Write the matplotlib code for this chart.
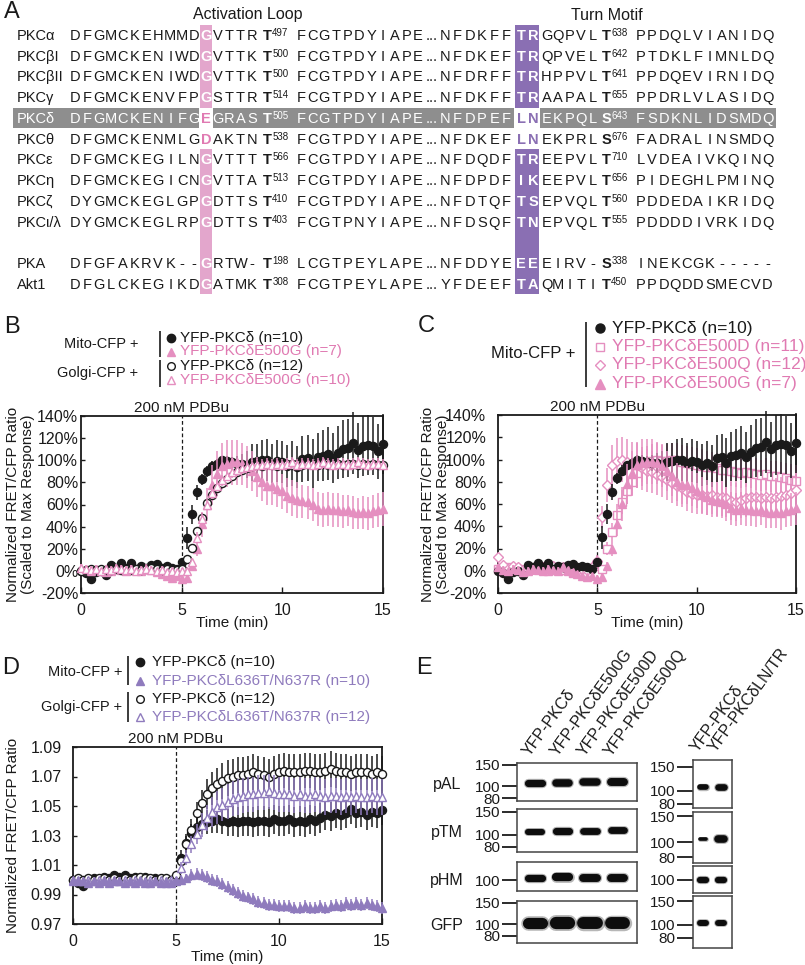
import numpy as np
import matplotlib
matplotlib.use("Agg")
import matplotlib.pyplot as plt
from matplotlib.patches import Rectangle
from matplotlib.ticker import NullLocator

plt.rcParams['font.family'] = ['Liberation Sans', 'DejaVu Sans']
INK = '#1a1a1a'
PINK = '#e58fc0'
PINK_TXT = '#e07ab2'
PURPLE = '#8f7bbd'
PINK_COL = '#e3a6cc'
PURPLE_COL = '#8a6fb3'
GRAY_ROW = '#8e8e8e'

# ---------------- Panel A data ----------------
proteins = ['PKCα', 'PKCβI', 'PKCβII', 'PKCγ', 'PKCδ', 'PKCθ', 'PKCε', 'PKCη',
            'PKCζ', 'PKCι/λ', 'PKA', 'Akt1']
al_left = ['DFGMCKEHMMD', 'DFGMCKENIWD', 'DFGMCKENIWD', 'DFGMCKENVFP', 'DFGMCKENIFG',
           'DFGMCKENMLG', 'DFGMCKEGILN', 'DFGMCKEGICN', 'DYGMCKEGLGP', 'DYGMCKEGLRP',
           'DFGFAKRVK--', 'DFGLCKEGIKD']
al_res = ['G', 'G', 'G', 'G', 'E', 'D', 'G', 'G', 'G', 'G', 'G', 'G']
al_right = ['VTTR', 'VTTK', 'VTTK', 'STTR', 'GRAS', 'AKTN', 'VTTT', 'VTTA', 'DTTS',
            'DTTS', 'RTW-', 'ATMK']
al_site = ['T497', 'T500', 'T500', 'T514', 'T505', 'T538', 'T566', 'T513', 'T410',
           'T403', 'T198', 'T308']
mid_left = ['FCGTPDYIAPE', 'FCGTPDYIAPE', 'FCGTPDYIAPE', 'FCGTPDYIAPE', 'FCGTPDYIAPE',
            'FCGTPDYIAPE', 'FCGTPDYIAPE', 'FCGTPDYIAPE', 'FCGTPDYIAPE', 'FCGTPNYIAPE',
            'LCGTPEYLAPE', 'FCGTPEYLAPE']
mid_right = ['NFDKFF', 'NFDKEF', 'NFDRFF', 'NFDKFF', 'NFDPEF', 'NFDKEF', 'NFDQDF',
             'NFDPDF', 'NFDTQF', 'NFDSQF', 'NFDDYE', 'YFDEEF']
tm_res = ['TR', 'TR', 'TR', 'TR', 'LN', 'LN', 'TR', 'IK', 'TS', 'TN', 'EE', 'TA']
tm_right = ['GQPVL', 'QPVEL', 'HPPVL', 'AAPAL', 'EKPQL', 'EKPRL', 'EEPVL', 'EEPVL',
            'EPVQL', 'EPVQL', 'EIRV-', 'QMITI']
tm_site = ['T638', 'T642', 'T641', 'T655', 'S643', 'S676', 'T710', 'T656', 'T560',
           'T555', 'S338', 'T450']
c_term = ['PPDQLVIANIDQ', 'PTDKLFIMNLDQ', 'PPDQEVIRNIDQ', 'PPDRLVLASIDQ', 'FSDKNLIDSMDQ',
          'FADRALINSMDQ', 'LVDEAIVKQINQ', 'PIDEGHLPMINQ', 'PDDEDAIKRIDQ', 'PDDDDIVRKIDQ',
          'INEKCGK-----', 'PPDQDDSMECVD']
highlight_row = 'PKCδ'

# ---------------- Time-course data (sampled every 15 s) ----------------
t = np.arange(0, 15.01, 0.25)

mito_wt = [0.00, -0.02, -0.07, -0.01, 0.00, -0.04, 0.05, 0.03, 0.07, 0.03, 0.07, 0.02, 0.04, 0.03, 0.05, 0.06, 0.03, 0.04, 0.03, 0.02, 0.08,
           0.30, 0.51, 0.71, 0.83, 0.90, 0.95, 0.97, 1.00, 0.99, 0.98, 0.97, 0.97, 0.96, 0.98, 0.99, 1.00, 1.00, 0.97, 0.99, 0.98,
           0.95, 0.97, 0.94, 1.01, 1.02, 0.97, 1.03, 1.04, 1.06, 1.02, 1.07, 1.10, 1.11, 1.16, 1.09, 1.13, 1.14, 1.13, 1.08, 1.15]
mito_wt_err = [0.02, 0.02, 0.03, 0.02, 0.02, 0.03, 0.02, 0.02, 0.03, 0.02, 0.02, 0.02, 0.03, 0.02, 0.02, 0.03, 0.02, 0.02, 0.02, 0.03, 0.03,
               0.10, 0.09, 0.07, 0.05, 0.05, 0.04, 0.04, 0.04, 0.05, 0.05, 0.07, 0.09, 0.12, 0.17, 0.16, 0.18, 0.19, 0.18, 0.19, 0.19,
               0.19, 0.20, 0.19, 0.21, 0.21, 0.22, 0.22, 0.23, 0.24, 0.23, 0.24, 0.26, 0.26, 0.28, 0.25, 0.27, 0.27, 0.26, 0.25, 0.27]

mito_E500G = [0.03, 0.01, 0.00, 0.02, 0.01, -0.01, 0.00, 0.02, 0.01, 0.00, 0.02, 0.01, 0.00, 0.03, 0.01, -0.01, -0.03, -0.05, -0.06, -0.05, -0.07,
              -0.06, 0.04, 0.20, 0.42, 0.60, 0.78, 0.88, 0.95, 0.97, 0.98, 0.98, 0.97, 0.94, 0.90, 0.85, 0.80, 0.77, 0.77, 0.74, 0.72,
              0.68, 0.66, 0.64, 0.63, 0.62, 0.60, 0.56, 0.55, 0.56, 0.55, 0.55, 0.54, 0.55, 0.53, 0.52, 0.53, 0.52, 0.54, 0.55, 0.56]
mito_E500G_err = [0.03, 0.03, 0.02, 0.03, 0.03, 0.02, 0.03, 0.03, 0.02, 0.03, 0.03, 0.02, 0.03, 0.03, 0.02, 0.03, 0.03, 0.03, 0.03, 0.03, 0.03,
                  0.03, 0.04, 0.07, 0.11, 0.15, 0.18, 0.20, 0.21, 0.21, 0.20, 0.20, 0.19, 0.19, 0.18, 0.18, 0.17, 0.17, 0.17, 0.16, 0.16,
                  0.16, 0.16, 0.16, 0.15, 0.15, 0.15, 0.15, 0.15, 0.15, 0.15, 0.15, 0.15, 0.14, 0.15, 0.14, 0.15, 0.15, 0.15, 0.15, 0.15]

golgi_wt = [0.00, 0.01, 0.02, 0.01, 0.02, 0.01, 0.01, 0.02, 0.01, 0.02, 0.01, 0.02, 0.01, 0.02, 0.03, 0.02, 0.01, 0.02, 0.01, 0.01, 0.02,
            0.11, 0.21, 0.36, 0.48, 0.61, 0.69, 0.75, 0.79, 0.83, 0.86, 0.89, 0.91, 0.93, 0.95, 0.96, 0.95, 0.97, 0.96, 0.95, 0.96,
            0.97, 0.96, 0.97, 0.96, 0.97, 0.97, 0.96, 0.97, 0.96, 0.97, 0.97, 0.96, 0.97, 0.97, 0.96, 0.97, 0.96, 0.97, 0.96, 0.96]
golgi_wt_err = [0.02, 0.02, 0.02, 0.02, 0.02, 0.02, 0.02, 0.02, 0.02, 0.02, 0.02, 0.02, 0.02, 0.02, 0.02, 0.02, 0.02, 0.02, 0.02, 0.02, 0.02,
                0.03, 0.03, 0.04, 0.04, 0.04, 0.04, 0.04, 0.04, 0.04, 0.04, 0.04, 0.04, 0.04, 0.04, 0.04, 0.04, 0.04, 0.04, 0.04, 0.04,
                0.04, 0.04, 0.04, 0.04, 0.04, 0.04, 0.04, 0.04, 0.04, 0.04, 0.04, 0.04, 0.04, 0.04, 0.04, 0.04, 0.04, 0.04, 0.04, 0.04]

golgi_E500G = [0.03, 0.02, 0.01, 0.02, 0.00, 0.02, 0.01, 0.03, 0.02, 0.01, 0.02, 0.00, 0.01, 0.02, 0.01, 0.00, 0.01, -0.01, 0.00, -0.01, 0.00,
               0.00, 0.08, 0.30, 0.47, 0.60, 0.70, 0.77, 0.82, 0.86, 0.89, 0.91, 0.93, 0.94, 0.95, 0.96, 0.96, 0.97, 0.96, 0.97, 0.96,
               0.97, 0.98, 0.96, 0.97, 0.97, 0.96, 0.97, 0.98, 0.97, 0.96, 0.97, 0.97, 0.96, 0.97, 0.98, 0.97, 0.96, 0.97, 0.97, 0.96]
golgi_E500G_err = [0.03, 0.03, 0.03, 0.03, 0.03, 0.03, 0.03, 0.03, 0.03, 0.03, 0.03, 0.03, 0.03, 0.03, 0.03, 0.03, 0.03, 0.03, 0.03, 0.03, 0.03,
                   0.03, 0.04, 0.05, 0.05, 0.05, 0.05, 0.05, 0.05, 0.05, 0.05, 0.05, 0.05, 0.05, 0.05, 0.05, 0.05, 0.05, 0.05, 0.05, 0.05,
                   0.05, 0.05, 0.05, 0.05, 0.05, 0.05, 0.05, 0.05, 0.05, 0.05, 0.05, 0.05, 0.05, 0.05, 0.05, 0.05, 0.05, 0.05, 0.05, 0.05]

mito_E500D = [0.02, 0.00, 0.03, 0.01, 0.02, 0.00, 0.01, 0.03, 0.02, 0.01, 0.00, 0.02, 0.03, 0.01, 0.00, -0.02, -0.01, -0.03, -0.02, -0.04, -0.03,
              0.02, 0.20, 0.35, 0.50, 0.62, 0.72, 0.80, 0.88, 0.94, 0.97, 0.99, 1.00, 0.99, 0.99, 1.00, 1.00, 0.98, 0.97, 0.96, 0.95,
              0.94, 0.93, 0.93, 0.92, 0.91, 0.91, 0.90, 0.89, 0.88, 0.89, 0.88, 0.87, 0.86, 0.87, 0.85, 0.85, 0.84, 0.83, 0.82, 0.81]
mito_E500D_err = [0.03, 0.03, 0.03, 0.03, 0.03, 0.03, 0.03, 0.03, 0.03, 0.03, 0.03, 0.03, 0.03, 0.03, 0.03, 0.03, 0.03, 0.03, 0.03, 0.03, 0.03,
                  0.03, 0.06, 0.08, 0.10, 0.11, 0.12, 0.13, 0.14, 0.14, 0.15, 0.15, 0.15, 0.15, 0.15, 0.15, 0.15, 0.15, 0.15, 0.15, 0.15,
                  0.15, 0.15, 0.14, 0.14, 0.14, 0.14, 0.14, 0.14, 0.14, 0.14, 0.14, 0.14, 0.14, 0.14, 0.14, 0.14, 0.14, 0.14, 0.14, 0.14]

mito_E500Q = [0.12, 0.05, 0.02, 0.04, 0.03, 0.01, 0.03, 0.02, 0.04, 0.03, 0.02, 0.04, 0.02, 0.03, 0.02, 0.03, 0.00, 0.02, 0.01, 0.03, 0.09,
              0.48, 0.77, 0.95, 0.99, 1.00, 0.98, 0.96, 0.95, 0.92, 0.90, 0.89, 0.86, 0.84, 0.82, 0.79, 0.76, 0.74, 0.71, 0.69, 0.68,
              0.68, 0.67, 0.68, 0.66, 0.66, 0.65, 0.63, 0.62, 0.64, 0.65, 0.66, 0.66, 0.65, 0.66, 0.65, 0.66, 0.67, 0.68, 0.70, 0.73]
mito_E500Q_err = [0.04, 0.04, 0.04, 0.04, 0.04, 0.04, 0.04, 0.04, 0.04, 0.04, 0.04, 0.04, 0.04, 0.04, 0.04, 0.04, 0.04, 0.04, 0.04, 0.04, 0.05,
                  0.10, 0.15, 0.18, 0.20, 0.20, 0.20, 0.20, 0.20, 0.19, 0.19, 0.19, 0.18, 0.18, 0.18, 0.18, 0.18, 0.17, 0.17, 0.17, 0.17,
                  0.17, 0.17, 0.17, 0.17, 0.17, 0.17, 0.17, 0.17, 0.17, 0.17, 0.17, 0.17, 0.17, 0.17, 0.17, 0.17, 0.17, 0.17, 0.17, 0.17]

D_mito_wt = [1.000, 0.998, 0.996, 0.999, 1.001, 0.999, 1.002, 1.001, 1.003, 1.002, 1.003, 1.001, 1.002, 1.001, 1.002, 1.000, 1.001, 1.000, 0.999, 1.000, 1.001,
             1.015, 1.025, 1.032, 1.036, 1.038, 1.039, 1.040, 1.041, 1.040, 1.039, 1.040, 1.039, 1.040, 1.040, 1.039, 1.040, 1.040, 1.039, 1.041, 1.040,
             1.040, 1.041, 1.039, 1.040, 1.039, 1.041, 1.040, 1.042, 1.044, 1.043, 1.045, 1.044, 1.045, 1.048, 1.045, 1.046, 1.044, 1.046, 1.045, 1.047]
D_mito_wt_err = [0.002, 0.002, 0.002, 0.002, 0.002, 0.002, 0.002, 0.002, 0.002, 0.002, 0.002, 0.002, 0.002, 0.002, 0.002, 0.002, 0.002, 0.002, 0.002, 0.002, 0.002,
                 0.005, 0.006, 0.006, 0.007, 0.007, 0.008, 0.008, 0.009, 0.009, 0.009, 0.010, 0.010, 0.010, 0.010, 0.010, 0.010, 0.010, 0.010, 0.010, 0.010,
                 0.010, 0.010, 0.010, 0.010, 0.010, 0.010, 0.010, 0.010, 0.010, 0.010, 0.010, 0.010, 0.010, 0.010, 0.010, 0.010, 0.010, 0.010, 0.010, 0.010]

D_golgi_wt = [1.000, 1.001, 1.000, 1.001, 1.000, 1.001, 1.001, 1.000, 1.001, 1.000, 1.001, 1.000, 1.001, 1.002, 1.001, 1.001, 1.000, 1.001, 1.001, 1.000, 1.003,
              1.013, 1.024, 1.034, 1.045, 1.052, 1.058, 1.062, 1.065, 1.067, 1.069, 1.070, 1.071, 1.071, 1.072, 1.073, 1.072, 1.071, 1.070, 1.072, 1.073,
              1.074, 1.073, 1.073, 1.073, 1.074, 1.074, 1.073, 1.073, 1.074, 1.075, 1.074, 1.073, 1.073, 1.072, 1.073, 1.073, 1.073, 1.072, 1.073, 1.072]
D_golgi_wt_err = [0.002, 0.002, 0.002, 0.002, 0.002, 0.002, 0.002, 0.002, 0.002, 0.002, 0.002, 0.002, 0.002, 0.002, 0.002, 0.002, 0.002, 0.002, 0.002, 0.002, 0.002,
                  0.004, 0.006, 0.007, 0.008, 0.009, 0.010, 0.011, 0.011, 0.012, 0.012, 0.012, 0.012, 0.012, 0.012, 0.012, 0.012, 0.012, 0.012, 0.012, 0.012,
                  0.012, 0.012, 0.012, 0.012, 0.012, 0.012, 0.012, 0.012, 0.012, 0.012, 0.012, 0.012, 0.012, 0.012, 0.012, 0.012, 0.012, 0.012, 0.012, 0.012]

D_golgi_LNTR = [0.999, 1.000, 0.999, 1.000, 0.999, 1.000, 1.000, 0.999, 1.000, 0.999, 1.000, 0.999, 1.000, 1.000, 0.999, 1.000, 0.999, 1.000, 0.999, 1.000, 1.000,
                1.008, 1.015, 1.024, 1.031, 1.037, 1.042, 1.046, 1.049, 1.051, 1.053, 1.055, 1.056, 1.057, 1.058, 1.058, 1.059, 1.059, 1.060, 1.059, 1.058,
                1.058, 1.058, 1.057, 1.058, 1.057, 1.057, 1.058, 1.057, 1.056, 1.057, 1.057, 1.056, 1.057, 1.056, 1.057, 1.056, 1.056, 1.057, 1.056, 1.056]
D_golgi_LNTR_err = [0.002, 0.002, 0.002, 0.002, 0.002, 0.002, 0.002, 0.002, 0.002, 0.002, 0.002, 0.002, 0.002, 0.002, 0.002, 0.002, 0.002, 0.002, 0.002, 0.002, 0.002,
                    0.004, 0.005, 0.006, 0.007, 0.008, 0.009, 0.010, 0.011, 0.011, 0.012, 0.012, 0.012, 0.012, 0.012, 0.012, 0.012, 0.012, 0.012, 0.012, 0.012,
                    0.012, 0.012, 0.012, 0.012, 0.012, 0.012, 0.012, 0.012, 0.012, 0.012, 0.012, 0.012, 0.012, 0.012, 0.012, 0.012, 0.012, 0.012, 0.012, 0.012]

D_mito_LNTR = [1.000, 0.999, 0.999, 0.998, 0.999, 0.998, 0.999, 0.998, 0.999, 0.999, 0.998, 0.999, 0.998, 0.999, 0.998, 0.998, 0.999, 0.998, 0.998, 0.998, 0.999,
               1.000, 1.001, 1.003, 1.004, 1.003, 1.002, 1.000, 0.999, 0.997, 0.995, 0.993, 0.991, 0.989, 0.988, 0.987, 0.985, 0.984, 0.983, 0.983, 0.982,
               0.982, 0.982, 0.981, 0.981, 0.982, 0.981, 0.981, 0.982, 0.981, 0.982, 0.983, 0.982, 0.984, 0.983, 0.984, 0.983, 0.984, 0.983, 0.982, 0.981]
D_mito_LNTR_err = [0.002, 0.002, 0.002, 0.002, 0.002, 0.002, 0.002, 0.002, 0.002, 0.002, 0.002, 0.002, 0.002, 0.002, 0.002, 0.002, 0.002, 0.002, 0.002, 0.002, 0.002,
                   0.003, 0.003, 0.004, 0.004, 0.004, 0.004, 0.004, 0.004, 0.004, 0.004, 0.004, 0.004, 0.004, 0.004, 0.004, 0.004, 0.004, 0.004, 0.004, 0.004,
                   0.004, 0.004, 0.004, 0.004, 0.004, 0.004, 0.004, 0.004, 0.004, 0.004, 0.004, 0.004, 0.004, 0.004, 0.004, 0.004, 0.004, 0.004, 0.004, 0.004]

B_yticks = [-0.2, 0.0, 0.2, 0.4, 0.6, 0.8, 1.0, 1.2, 1.4]
D_yticks = [0.97, 0.99, 1.01, 1.03, 1.05, 1.07, 1.09]
time_ticks = [0, 5, 10, 15]

# ---------------- Panel E data ----------------
lanes_left = ['YFP-PKCδ', 'YFP-PKCδE500G', 'YFP-PKCδE500D', 'YFP-PKCδE500Q']
lanes_right = ['YFP-PKCδ', 'YFP-PKCδLN/TR']
blot_names = ['pAL', 'pTM', 'pHM', 'GFP']
left_band_kda = [[106, 106, 109, 109], [105, 107, 107, 108], [104, 105, 104, 104], [102, 102, 102, 102]]
left_signal = [[1.00, 1.05, 1.05, 1.10], [0.85, 1.00, 0.95, 0.95], [1.00, 1.15, 1.10, 1.10], [1.55, 1.70, 1.65, 1.65]]
right_band_kda = [[106, 106], [106, 106], [100, 100], [104, 104]]
right_signal = [[0.85, 1.00], [0.55, 1.15], [0.95, 0.95], [0.90, 0.90]]
left_markers = [[150, 100, 80], [150, 100, 80], [100], [150, 100, 80]]
right_markers = [[150, 100, 80], [150, 100, 80], [100], [150, 100, 80]]

# ================= Figure =================
W, H = 805, 965
fig = plt.figure(figsize=(W / 100, H / 100), dpi=100)
ov = fig.add_axes([0, 0, 1, 1])
ov.set_xlim(0, W)
ov.set_ylim(H, 0)
ov.axis('off')


def axes_px(l, t_, r, b):
    return fig.add_axes([l / W, 1 - b / H, (r - l) / W, (b - t_) / H])


# ---------- Panel A ----------
ov.text(4, 12, 'A', fontsize=17, ha='left', va='center', color=INK)
ov.text(248, 15, 'Activation Loop', fontsize=11.5, ha='center', va='center', color=INK)
ov.text(607, 15, 'Turn Motif', fontsize=11.5, ha='center', va='center', color=INK)

ROW_Y = [35 + 20.75 * i for i in range(10)] + [35 + 20.75 * 11, 35 + 20.75 * 12]
HALF = 10.4
FS_A = 10.5

al_boxed = [c == 'G' for c in al_res]
tm_boxed = [m != 'LN' for m in tm_res]


def runs(flags):
    out, start = [], None
    for i, f in enumerate(flags + [False]):
        if f and start is None:
            start = i
        if not f and start is not None:
            out.append((start, i - 1))
            start = None
    return out


for a, b in runs(al_boxed):
    ov.add_patch(Rectangle((200, ROW_Y[a] - HALF), 12, ROW_Y[b] - ROW_Y[a] + 2 * HALF,
                           facecolor=PINK_COL, edgecolor='none', zorder=1))
for a, b in runs(tm_boxed):
    ov.add_patch(Rectangle((515, ROW_Y[a] - HALF), 24, ROW_Y[b] - ROW_Y[a] + 2 * HALF,
                           facecolor=PURPLE_COL, edgecolor='none', zorder=1))


def seq(x0, pitch, yb, s, color, weight='normal'):
    for i, c in enumerate(s):
        ov.text(x0 + pitch * i, yb, c, ha='center', va='baseline', fontsize=FS_A,
                color=color, fontweight=weight, zorder=3)


def site(x, yb, s, color):
    ov.text(x, yb, s[0], ha='left', va='baseline', fontsize=FS_A, fontweight='bold',
            color=color, zorder=3)
    ov.text(x + 9.3, yb - 4.0, s[1:], ha='left', va='baseline', fontsize=7,
            color=color, zorder=3)


for r, name in enumerate(proteins):
    y = ROW_Y[r]
    yb = y + 4.8
    hl = (name == highlight_row)
    col = 'white' if hl else INK
    if hl:
        for x0, x1 in [(13, 199), (213, 514), (540, 776)]:
            ov.add_patch(Rectangle((x0, y - HALF + 0.5), x1 - x0, 2 * HALF - 1,
                                   facecolor=GRAY_ROW, edgecolor='none', zorder=1))
    ov.text(17, yb, name, ha='left', va='baseline', fontsize=FS_A, color=col, zorder=3)
    seq(75, 11.9, yb, al_left[r], col)
    seq(206, 0, yb, al_res[r], 'white' if al_boxed[r] else PINK_TXT, weight='bold')
    seq(217.7, 11.4, yb, al_right[r], col)
    site(263, yb, al_site[r], col)
    seq(300.9, 11.7, yb, mid_left[r], col)
    ov.text(432, yb, '...', ha='center', va='baseline', fontsize=FS_A, color=col, zorder=3)
    seq(445, 12.3, yb, mid_right[r], col)
    seq(521, 12, yb, tm_res[r], 'white' if tm_boxed[r] else PURPLE_COL, weight='bold')
    seq(546.5, 11.5, yb, tm_right[r], col)
    site(602, yb, tm_site[r], col)
    seq(640.5, 11.55, yb, c_term[r], col)


# ---------- helpers for time course ----------
def legend_row(xm, xt, y, marker, mfc, mec, text, color, ms=6, fs=11):
    ov.plot([xm], [y], marker=marker, ms=ms, mfc=mfc, mec=mec, mew=1.0, ls='none', zorder=3)
    ov.text(xt, y, text, ha='left', va='center', fontsize=fs, color=color, zorder=3)


def bar(x, y0, y1):
    ov.plot([x, x], [y0, y1], color=INK, lw=1.2, solid_capstyle='butt')


def series(ax, y, e, marker, mfc, mec, ecol, ms=5.8, z=3):
    ax.errorbar(t, y, yerr=e, fmt=marker, ms=ms, mfc=mfc, mec=mec, mew=1.0,
                ecolor=ecol, elinewidth=1.1, capsize=0, clip_on=False, zorder=z)


def style_tc(ax, ylim, yticks, ylabels, ypad, ylabel, ylab_x, xlab_y, xpad=7):
    ax.set_xlim(0, 15)
    ax.set_ylim(*ylim)
    ax.set_xticks(time_ticks)
    ax.set_xticklabels([str(v) for v in time_ticks])
    ax.set_yticks(yticks)
    ax.set_yticklabels(ylabels)
    ax.tick_params(axis='x', direction='in', length=4, width=1, pad=xpad, labelsize=11.5, colors=INK)
    ax.tick_params(axis='y', direction='in', length=3, width=1, pad=ypad, labelsize=11.5, colors=INK)
    for s in ax.spines.values():
        s.set_linewidth(1.3)
        s.set_color(INK)
    ax.axvline(5, color=INK, lw=0.9, ls=(0, (3, 2)), zorder=1)
    ax.annotate('200 nM PDBu', xy=(5, 1), xycoords=('data', 'axes fraction'),
                xytext=(0, 6), textcoords='offset points', ha='center', va='center',
                fontsize=11, color=INK)
    ax.set_xlabel('Time (min)', fontsize=11, color=INK)
    ax.xaxis.set_label_coords(0.5, xlab_y)
    ax.xaxis.label.set_va('center')
    ax.set_ylabel(ylabel, fontsize=11, color=INK, linespacing=1.05)
    ax.yaxis.set_label_coords(ylab_x, 0.5)
    ax.yaxis.label.set_va('center')
    ax.yaxis.label.set_ha('center')
    ax.patch.set_alpha(0)


pct = ['%d%%' % round(v * 100) for v in B_yticks]

# ---------- Panel B ----------
ov.text(4, 327, 'B', fontsize=17, ha='left', va='center', color=INK)
ov.text(138, 344, 'Mito-CFP +', ha='right', va='center', fontsize=10.5, color=INK)
bar(160, 331, 357)
legend_row(171, 179.5, 338, 'o', INK, INK, 'YFP-PKCδ (n=10)', INK)
legend_row(171, 179.5, 351.5, '^', PINK, PINK, 'YFP-PKCδE500G (n=7)', PINK_TXT)
ov.text(138, 373, 'Golgi-CFP +', ha='right', va='center', fontsize=10.5, color=INK)
bar(160, 360, 387)
legend_row(171, 179.5, 366, 'o', 'white', INK, 'YFP-PKCδ (n=12)', INK, ms=5.5)
legend_row(171, 179.5, 380, '^', 'white', PINK, 'YFP-PKCδE500G (n=10)', PINK_TXT)

axB = axes_px(81, 416, 383, 593)
series(axB, mito_wt, mito_wt_err, 'o', INK, INK, INK, z=3)
series(axB, mito_E500G, mito_E500G_err, '^', PINK, PINK, PINK, ms=6.2, z=4)
series(axB, golgi_wt, golgi_wt_err, 'o', 'white', INK, INK, z=5)
series(axB, golgi_E500G, golgi_E500G_err, '^', 'white', PINK, PINK, ms=6.0, z=6)
style_tc(axB, (-0.2, 1.4), B_yticks, pct, 2,
         'Normalized FRET/CFP Ratio\n(Scaled to Max Response)', -0.2, -0.17)

# ---------- Panel C ----------
ov.text(418, 326, 'C', fontsize=17, ha='left', va='center', color=INK)
ov.text(575, 353, 'Mito-CFP +', ha='right', va='center', fontsize=12, color=INK)
bar(586, 322, 387)
legend_row(600, 612, 328, 'o', INK, INK, 'YFP-PKCδ (n=10)', INK, ms=6.5, fs=12.5)
legend_row(600, 612, 346.5, 's', 'white', PINK, 'YFP-PKCδE500D (n=11)', PINK_TXT, ms=6, fs=12.5)
legend_row(600, 612, 365, 'D', 'white', PINK, 'YFP-PKCδE500Q (n=12)', PINK_TXT, ms=5.5, fs=12.5)
legend_row(600, 612, 383.5, '^', PINK, PINK, 'YFP-PKCδE500G (n=7)', PINK_TXT, ms=6.5, fs=12.5)

axC = axes_px(498, 415, 796, 593)
series(axC, mito_E500D, mito_E500D_err, 's', 'white', PINK, PINK, ms=5.5, z=3)
series(axC, mito_E500Q, mito_E500Q_err, 'D', 'white', PINK, PINK, ms=5.0, z=4)
series(axC, mito_wt, mito_wt_err, 'o', INK, INK, INK, z=5)
series(axC, mito_E500G, mito_E500G_err, '^', PINK, PINK, PINK, ms=6.2, z=6)
style_tc(axC, (-0.2, 1.4), B_yticks, pct, 8.5,
         'Normalized FRET/CFP Ratio\n(Scaled to Max Response)', -0.21, -0.17)

# ---------- Panel D ----------
ov.text(2, 668, 'D', fontsize=17, ha='left', va='center', color=INK)
ov.text(122, 672, 'Mito-CFP +', ha='right', va='center', fontsize=10.5, color=INK)
bar(128, 656, 685)
legend_row(140, 152, 662, 'o', INK, INK, 'YFP-PKCδ (n=10)', INK)
legend_row(140, 152, 681, '^', PURPLE, PURPLE, 'YFP-PKCδL636T/N637R (n=10)', PURPLE)
ov.text(122, 707, 'Golgi-CFP +', ha='right', va='center', fontsize=10.5, color=INK)
bar(128, 692, 722)
legend_row(140, 152, 699, 'o', 'white', INK, 'YFP-PKCδ (n=12)', INK, ms=5.5)
legend_row(140, 152, 717, '^', 'white', PURPLE, 'YFP-PKCδL636T/N637R (n=12)', PURPLE)

axD = axes_px(73, 747, 382, 924)
series(axD, D_mito_wt, D_mito_wt_err, 'o', INK, INK, INK, z=3)
series(axD, D_golgi_wt, D_golgi_wt_err, 'o', 'white', INK, INK, z=4)
series(axD, D_golgi_LNTR, D_golgi_LNTR_err, '^', 'white', PURPLE, PURPLE, ms=6.0, z=5)
series(axD, D_mito_LNTR, D_mito_LNTR_err, '^', PURPLE, PURPLE, PURPLE, ms=6.2, z=6)
style_tc(axD, (0.97, 1.09), D_yticks, ['%.2f' % v for v in D_yticks], 8,
         'Normalized FRET/CFP Ratio', -0.195, -0.186)

# ---------- Panel E ----------
ov.text(416, 668, 'E', fontsize=17, ha='left', va='center', color=INK)

left_boxes = [(517, 763, 637, 801), (517, 809, 637, 852), (517, 862, 637, 891), (517, 901, 637, 943)]
left_ylim = [(75.6, 155.8), (73.1, 158.3), (81.6, 139.6), (70.0, 155.8)]
right_boxes = [(693, 760, 732, 808), (693, 812, 732, 863), (693, 866, 732, 893), (693, 896, 732, 948)]
right_ylim = [(74.7, 168.9), (73.0, 159.5), (80.5, 126.3), (67.5, 163.3)]
row_label_y = [784, 832, 880, 925]


def blot(box, ylim, xlim, kda, sig, marks, half_len, lw_base, tick_len):
    ax = axes_px(*box)
    ax.set_yscale('log')
    ax.set_ylim(*ylim)
    ax.set_xlim(*xlim)
    ax.set_xticks([])
    ax.set_yticks(marks)
    ax.set_yticklabels([str(m) for m in marks])
    ax.yaxis.set_minor_locator(NullLocator())
    ax.tick_params(axis='y', direction='out', length=tick_len, width=1.3, pad=1.2,
                   labelsize=11, colors=INK)
    for s in ax.spines.values():
        s.set_linewidth(1.1)
        s.set_color('#444444')
    for i, (k, s) in enumerate(zip(kda, sig)):
        x = i + 1
        ax.plot([x - half_len, x + half_len], [k, k], color='#111111', alpha=0.3,
                lw=lw_base * s * 1.3, solid_capstyle='round')
        ax.plot([x - half_len, x + half_len], [k, k], color='#0d0d0d',
                lw=lw_base * s, solid_capstyle='round')
    return ax


for j in range(4):
    blot(left_boxes[j], left_ylim[j], (0.35, 4.70), left_band_kda[j], left_signal[j],
         left_markers[j], 0.24, 5.2, 10.8)
    blot(right_boxes[j], right_ylim[j], (0.447, 2.61), right_band_kda[j], right_signal[j],
         right_markers[j], 0.18, 4.8, 11.5)
    ov.text(447, row_label_y[j], blot_names[j], ha='center', va='center', fontsize=11.5, color=INK)

for i, name in enumerate(lanes_left):
    ov.text(530 + 27.2 * i, 757, name, rotation=54, rotation_mode='anchor',
            ha='left', va='baseline', fontsize=11.5, color=INK)
for i, name in enumerate(lanes_right):
    ov.text(698 + 17.5 * i, 753, name, rotation=54, rotation_mode='anchor',
            ha='left', va='baseline', fontsize=11.5, color=INK)

fig.savefig('out.png', dpi=100)
